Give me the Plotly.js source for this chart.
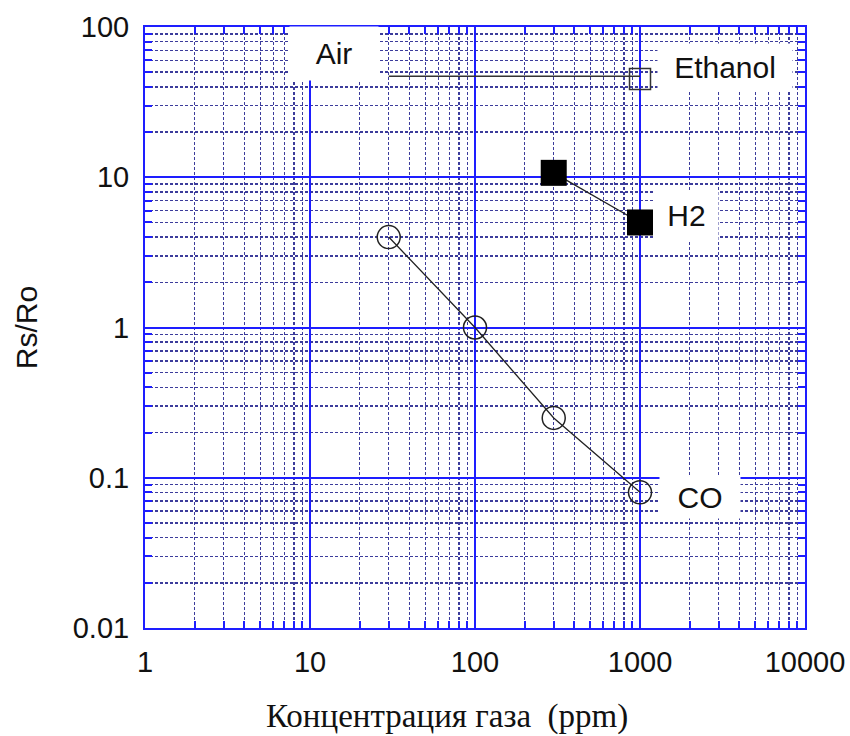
<!DOCTYPE html>
<html>
<head>
<meta charset="utf-8">
<script src="https://cdn.plot.ly/plotly-3.0.1.min.js"></script>
<style>html,body{margin:0;padding:0;background:#fff;}#chart{width:850px;height:736px;}</style>
</head>
<body>
<div id="chart"></div>
<script>
// Data
const coX = [30, 100, 300, 1000];
const coY = [4, 1, 0.25, 0.08];
const h2X = [300, 1000];
const h2Y = [10.7, 5];
const ethX = [1000];
const ethY = [45];
const airX = [30, 1000];
const airY = [47, 47];

const xTickVals = [1, 10, 100, 1000, 10000];
const xTickText = ['1', '10', '100', '1000', '10000'];
const yTickVals = [0.01, 0.1, 1, 10, 100];
const yTickText = ['0.01', '0.1', '1', '10', '100'];

const seriesLabels = ['Air', 'Ethanol', 'H2', 'CO'];
const xTitle = 'Концентрация газа&nbsp; (ppm)';
const yTitle = 'Rs/Ro';

const majorColor = 'rgb(30,30,255)';
const minorColor = 'rgb(60,60,155)';

const traces = [
  {x: airX, y: airY, mode: 'lines', line: {color: '#333', width: 1.3}, hoverinfo: 'skip'},
  {x: ethX, y: ethY, mode: 'markers', marker: {symbol: 'square-open', size: 21, color: '#333', line: {width: 1.5, color: '#333'}}},
  {x: h2X, y: h2Y, mode: 'lines+markers', line: {color: '#222', width: 1.3},
   marker: {symbol: 'square', size: 26, color: '#000'}},
  {x: coX, y: coY, mode: 'lines+markers', line: {color: '#222', width: 1.3},
   marker: {symbol: 'circle-open', size: 23, color: '#222', line: {width: 1.5, color: '#222'}}}
];

function axisCommon() {
  return {
    type: 'log',
    showline: true, linecolor: majorColor, linewidth: 2, mirror: 'ticks',
    showgrid: true, gridcolor: majorColor, gridwidth: 2,
    ticks: 'inside', ticklen: 14, tickwidth: 2, tickcolor: majorColor,
    zeroline: false,
    tickfont: {family: 'Liberation Sans, Arial, sans-serif', size: 29, color: '#111'},
    minor: {dtick: 'D1', showgrid: true, gridcolor: minorColor, gridwidth: 1.5,
            griddash: '3px,2px', ticks: 'inside', ticklen: 7, tickwidth: 2, tickcolor: majorColor}
  };
}

const xaxis = Object.assign(axisCommon(), {
  range: [0, 4], tickmode: 'array', tickvals: xTickVals, ticktext: xTickText,
  ticklabelstandoff: 7
});
const yaxis = Object.assign(axisCommon(), {
  range: [-2, 2], tickmode: 'array', tickvals: yTickVals, ticktext: yTickText,
  ticklabelstandoff: 8,
  title: {text: yTitle, standoff: 26,
          font: {family: 'Liberation Sans, Arial, sans-serif', size: 30, color: '#111'}}
});

const labelFont = {family: 'Liberation Sans, Arial, sans-serif', size: 30, color: '#111'};
const annotations = [
  {text: seriesLabels[0], xref: 'paper', yref: 'paper', x: 0.287, y: 0.956, width: 88, height: 53},
  {text: seriesLabels[1], xref: 'paper', yref: 'paper', x: 0.879, y: 0.932, width: 134, height: 47},
  {text: seriesLabels[2], xref: 'paper', yref: 'paper', x: 0.82, y: 0.687, width: 63, height: 49},
  {text: seriesLabels[3], xref: 'paper', yref: 'paper', x: 0.841, y: 0.218, width: 80, height: 42}
].map(a => Object.assign(a, {showarrow: false, bgcolor: '#fff', borderpad: 0,
  xanchor: 'center', yanchor: 'middle', font: labelFont}));

annotations.push({text: xTitle, xref: 'paper', yref: 'paper', x: 0.458, y: -0.148,
  xanchor: 'center', yanchor: 'middle', showarrow: false,
  font: {family: 'Liberation Serif, Times New Roman, serif', size: 33, color: '#111'}});

const layout = {
  width: 850, height: 736,
  margin: {l: 145, r: 45, t: 27, b: 108},
  paper_bgcolor: '#fff', plot_bgcolor: '#fff',
  showlegend: false,
  xaxis: xaxis, yaxis: yaxis,
  annotations: annotations
};

Plotly.newPlot('chart', traces, layout, {staticPlot: true});
</script>
</body>
</html>
